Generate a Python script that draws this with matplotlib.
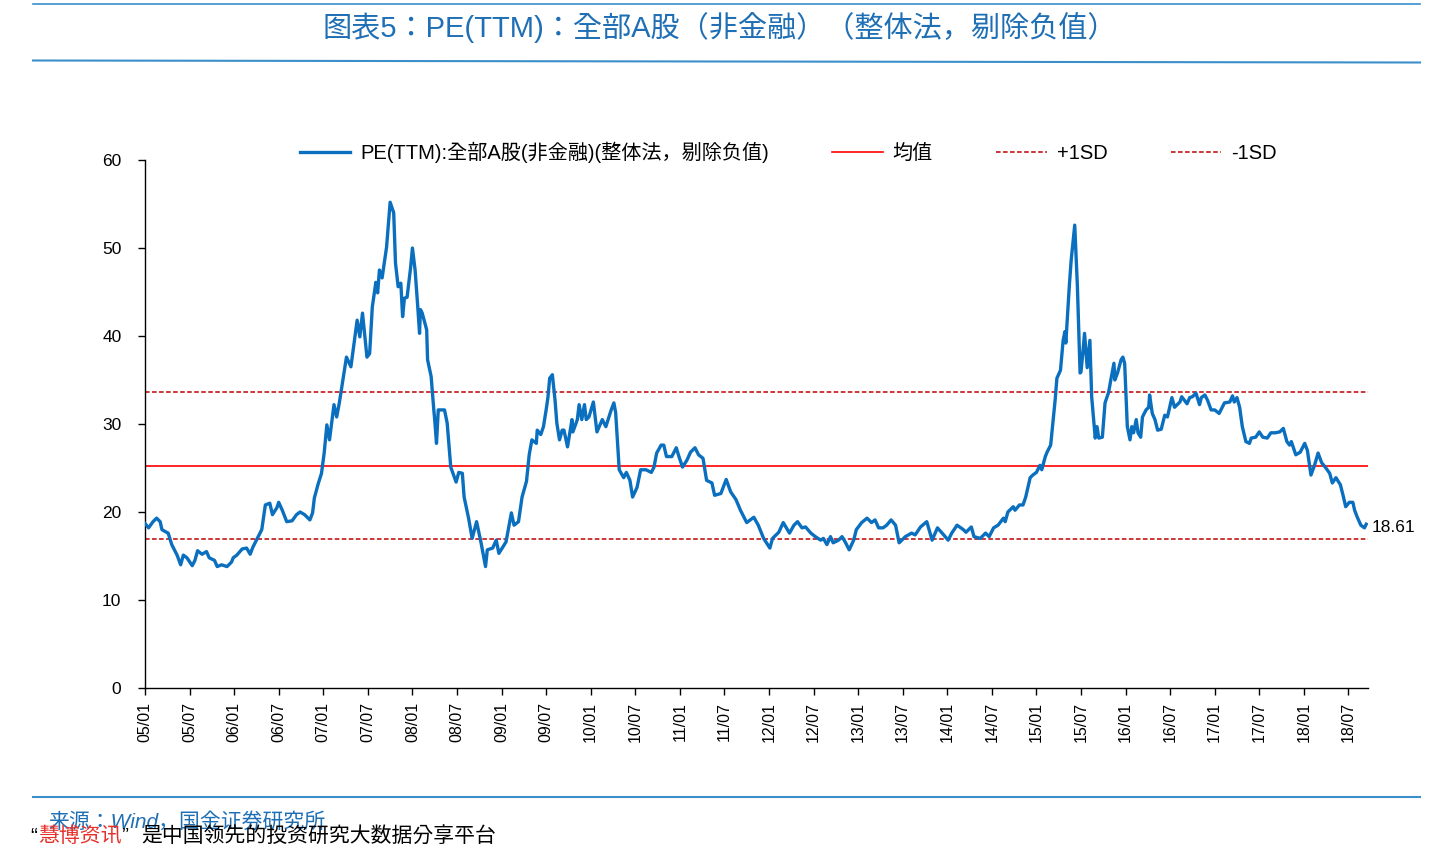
import matplotlib
matplotlib.use("Agg")
import matplotlib.pyplot as plt
from matplotlib.lines import Line2D
import numpy as np

plt.rcParams['font.family'] = ['Liberation Sans', 'Noto Sans CJK KR', 'DejaVu Sans']

# ---- data (decimal year, PE) ----
t_years = [
    2005.00, 2005.04, 2005.09, 2005.13, 2005.17, 2005.19, 2005.24, 2005.26, 2005.30, 2005.36,
    2005.40, 2005.43, 2005.47, 2005.53, 2005.56, 2005.59, 2005.64, 2005.69, 2005.72, 2005.78,
    2005.81, 2005.86, 2005.92, 2005.97, 2005.99, 2006.03, 2006.09, 2006.14, 2006.18, 2006.21,
    2006.25, 2006.31, 2006.33, 2006.35, 2006.40, 2006.43, 2006.48, 2006.50, 2006.54, 2006.59,
    2006.65, 2006.70, 2006.74, 2006.79, 2006.85, 2006.88, 2006.90, 2006.94, 2006.98, 2007.01,
    2007.04, 2007.07, 2007.12, 2007.15, 2007.18, 2007.26, 2007.31, 2007.38, 2007.41, 2007.44,
    2007.49, 2007.52, 2007.55, 2007.59, 2007.61, 2007.63, 2007.66, 2007.71, 2007.75, 2007.79,
    2007.81, 2007.84, 2007.87, 2007.89, 2007.91, 2007.94, 2007.98, 2008.00, 2008.03, 2008.06,
    2008.08, 2008.09, 2008.11, 2008.16, 2008.17, 2008.21, 2008.24, 2008.25, 2008.27, 2008.29,
    2008.36, 2008.39, 2008.43, 2008.49, 2008.52, 2008.56, 2008.58, 2008.63, 2008.67, 2008.72,
    2008.77, 2008.82, 2008.84, 2008.90, 2008.94, 2008.97, 2009.05, 2009.11, 2009.14, 2009.19,
    2009.23, 2009.28, 2009.31, 2009.34, 2009.39, 2009.40, 2009.44, 2009.47, 2009.50, 2009.52,
    2009.54, 2009.57, 2009.60, 2009.62, 2009.65, 2009.68, 2009.70, 2009.74, 2009.79, 2009.80,
    2009.85, 2009.87, 2009.90, 2009.93, 2009.95, 2009.98, 2010.03, 2010.07, 2010.13, 2010.17,
    2010.23, 2010.26, 2010.28, 2010.32, 2010.37, 2010.40, 2010.44, 2010.47, 2010.52, 2010.56,
    2010.62, 2010.68, 2010.71, 2010.74, 2010.79, 2010.82, 2010.85, 2010.91, 2010.96, 2010.99,
    2011.03, 2011.08, 2011.12, 2011.17, 2011.21, 2011.26, 2011.30, 2011.36, 2011.39, 2011.46,
    2011.52, 2011.57, 2011.63, 2011.68, 2011.75, 2011.79, 2011.83, 2011.88, 2011.94, 2012.01,
    2012.04, 2012.11, 2012.16, 2012.23, 2012.28, 2012.32, 2012.37, 2012.41, 2012.47, 2012.52,
    2012.58, 2012.61, 2012.65, 2012.69, 2012.72, 2012.78, 2012.82, 2012.86, 2012.90, 2012.95,
    2012.98, 2013.04, 2013.10, 2013.15, 2013.19, 2013.23, 2013.28, 2013.32, 2013.37, 2013.42,
    2013.46, 2013.53, 2013.60, 2013.64, 2013.70, 2013.77, 2013.83, 2013.89, 2013.96, 2014.01,
    2014.05, 2014.11, 2014.18, 2014.21, 2014.27, 2014.30, 2014.37, 2014.43, 2014.47, 2014.52,
    2014.57, 2014.63, 2014.65, 2014.68, 2014.74, 2014.76, 2014.81, 2014.85, 2014.88, 2014.93,
    2014.96, 2015.00, 2015.04, 2015.06, 2015.10, 2015.12, 2015.16, 2015.21, 2015.23, 2015.27,
    2015.30, 2015.32, 2015.33, 2015.37, 2015.39, 2015.43, 2015.46, 2015.49, 2015.50, 2015.52,
    2015.54, 2015.57, 2015.60, 2015.62, 2015.66, 2015.68, 2015.70, 2015.74, 2015.77, 2015.81,
    2015.84, 2015.87, 2015.88, 2015.91, 2015.95, 2015.97, 2015.99, 2016.02, 2016.05, 2016.07,
    2016.09, 2016.12, 2016.14, 2016.17, 2016.19, 2016.23, 2016.26, 2016.27, 2016.30, 2016.33,
    2016.36, 2016.40, 2016.44, 2016.47, 2016.52, 2016.55, 2016.61, 2016.63, 2016.66, 2016.69,
    2016.72, 2016.75, 2016.79, 2016.83, 2016.85, 2016.89, 2016.92, 2016.96, 2017.00, 2017.05,
    2017.11, 2017.17, 2017.20, 2017.22, 2017.25, 2017.28, 2017.31, 2017.35, 2017.39, 2017.41,
    2017.46, 2017.50, 2017.54, 2017.59, 2017.63, 2017.68, 2017.73, 2017.77, 2017.81, 2017.84,
    2017.86, 2017.91, 2017.96, 2018.01, 2018.04, 2018.08, 2018.12, 2018.16, 2018.20, 2018.24,
    2018.29, 2018.32, 2018.36, 2018.41, 2018.44, 2018.47, 2018.51, 2018.55, 2018.57, 2018.60,
    2018.64, 2018.68, 2018.70,
]
pe_values = [
    18.7, 18.2, 18.9, 19.3, 18.9, 18.0, 17.7, 17.6, 16.3, 15.1,
    14.0, 15.1, 14.8, 13.9, 14.5, 15.6, 15.2, 15.5, 14.8, 14.5,
    13.8, 14.0, 13.8, 14.3, 14.8, 15.1, 15.8, 15.9, 15.2, 16.0,
    16.8, 18.0, 19.4, 20.8, 21.0, 19.7, 20.5, 21.1, 20.2, 18.9,
    19.0, 19.7, 20.0, 19.7, 19.1, 19.9, 21.6, 23.1, 24.4, 26.7,
    29.9, 28.2, 32.2, 30.8, 32.4, 37.6, 36.5, 41.8, 39.9, 42.6,
    37.6, 38.0, 43.3, 46.1, 44.9, 47.5, 46.6, 50.1, 55.2, 54.0,
    48.3, 45.6, 46.0, 42.2, 44.3, 44.4, 47.8, 50.0, 47.5, 43.3,
    40.3, 43.0, 42.6, 40.7, 37.3, 35.4, 31.6, 30.5, 27.8, 31.6,
    31.6, 30.1, 25.1, 23.4, 24.5, 24.4, 21.7, 19.3, 17.0, 18.9,
    16.5, 13.8, 15.7, 15.9, 16.8, 15.3, 16.6, 19.9, 18.5, 18.9,
    21.7, 23.5, 26.5, 28.2, 27.8, 29.3, 28.8, 29.7, 31.6, 33.0,
    35.2, 35.6, 32.7, 30.1, 28.2, 29.3, 29.3, 27.4, 30.5, 29.1,
    30.5, 32.2, 30.5, 32.2, 30.5, 30.8, 32.5, 29.1, 30.5, 29.7,
    31.6, 32.4, 31.3, 24.8, 23.9, 24.5, 23.6, 21.7, 22.8, 24.8,
    24.8, 24.5, 25.1, 26.7, 27.6, 27.6, 26.3, 26.3, 27.3, 26.3,
    25.1, 25.9, 26.8, 27.3, 26.5, 26.1, 23.6, 23.3, 21.9, 22.1,
    23.7, 22.3, 21.4, 20.2, 18.8, 19.1, 19.4, 18.5, 17.0, 15.9,
    17.0, 17.7, 18.8, 17.6, 18.5, 18.9, 18.2, 18.3, 17.6, 17.2,
    16.8, 17.0, 16.3, 17.2, 16.5, 16.8, 17.2, 16.5, 15.7, 16.8,
    18.0, 18.8, 19.3, 18.8, 19.1, 18.2, 18.2, 18.5, 19.1, 18.5,
    16.5, 17.2, 17.6, 17.4, 18.3, 18.9, 16.8, 18.2, 17.4, 16.8,
    17.6, 18.5, 18.0, 17.7, 18.3, 17.2, 17.0, 17.6, 17.2, 18.2,
    18.5, 19.3, 18.9, 20.0, 20.6, 20.2, 20.8, 20.8, 21.7, 23.9,
    24.2, 24.5, 25.3, 24.8, 26.3, 26.8, 27.6, 32.7, 35.2, 36.1,
    39.5, 40.5, 39.2, 45.8, 48.6, 52.6, 45.6, 35.8, 35.9, 38.0,
    40.3, 36.4, 39.5, 33.1, 28.4, 29.7, 28.4, 28.5, 32.4, 33.6,
    35.3, 36.9, 35.0, 35.8, 37.3, 37.6, 36.9, 29.7, 28.2, 29.7,
    29.0, 30.5, 29.0, 28.5, 30.8, 31.6, 31.9, 33.3, 31.2, 30.5,
    29.3, 29.4, 31.0, 30.8, 33.0, 31.9, 32.5, 33.1, 32.7, 32.3,
    33.0, 33.1, 33.5, 32.2, 33.0, 33.3, 32.7, 31.6, 31.6, 31.2,
    32.4, 32.5, 33.2, 32.5, 33.0, 31.9, 29.7, 28.0, 27.8, 28.4,
    28.5, 29.1, 28.5, 28.4, 29.0, 29.0, 29.1, 29.5, 28.0, 27.6,
    28.0, 26.5, 26.8, 27.8, 27.0, 24.2, 25.3, 26.7, 25.6, 25.1,
    24.4, 23.3, 23.9, 23.1, 21.9, 20.6, 21.1, 21.1, 20.2, 19.4,
    18.5, 18.2, 18.61,
]
mean_val = 25.25
plus_sd = 33.6
minus_sd = 16.9
last_label = "18.61"

tick_years = [2005 + 0.5 * i for i in range(28)]
tick_labels = [f"{y:02d}/{m}" for y in range(5, 19) for m in ("01", "07")]

series_label = "PE(TTM):全部A股(非金融)(整体法，剔除负值)"
title_text = "图表5：PE(TTM)：全部A股（非金融）（整体法，剔除负值）"

BLUE = "#0A6FBE"
RED = "#FF0000"
DRED = "#C00000"
TITLE_BLUE = "#1F6FB5"
RULE_BLUE = "#3A8FCB"

W, H = 1449, 850
fig = plt.figure(figsize=(W / 100, H / 100), dpi=100)
ax = fig.add_axes([145 / W, 1 - 688 / H, (1368 - 145) / W, (688 - 160) / H])

ax.plot(t_years, pe_values, color=BLUE, lw=2.4, label=series_label, zorder=3,
        solid_joinstyle="round")
ax.axhline(mean_val, color=RED, lw=1.2, label="均值", zorder=2)
ax.axhline(plus_sd, color=DRED, lw=1.1, ls=(0, (3, 1.6)), label="+1SD", zorder=2)
ax.axhline(minus_sd, color=DRED, lw=1.1, ls=(0, (3, 1.6)), label="-1SD", zorder=2)

ax.set_xlim(2005.0, 2018.72)
ax.set_ylim(0, 60)
ax.set_yticks(range(0, 61, 10))
ax.set_xticks(tick_years[:len(tick_labels)])
ax.set_xticklabels(tick_labels, rotation=90, fontsize=11.5)
ax.tick_params(axis='y', labelsize=12.5, direction='out', length=5, width=1, pad=12)
ax.tick_params(axis='x', direction='out', length=5, width=1, pad=5)
for s in ("top", "right"):
    ax.spines[s].set_visible(False)
for s in ("left", "bottom"):
    ax.spines[s].set_linewidth(1.0)
    ax.spines[s].set_color("black")

ax.annotate(last_label, xy=(t_years[-1], pe_values[-1]), xytext=(4, -2),
            textcoords="offset points", va="center", ha="left", fontsize=12.5)

leg = ax.legend(loc="center", bbox_to_anchor=(0.526, 1 + 8 / (688 - 160)),
                ncol=4, frameon=False, fontsize=14.5, handlelength=2.5,
                handletextpad=0.5, columnspacing=3.15)

# title and rules
fig.text(720 / W, 1 - 28 / H, title_text, ha="center", va="center",
         fontsize=21, color=TITLE_BLUE)
fig.add_artist(Line2D([33 / W, 1420 / W], [1 - 4 / H, 1 - 4 / H], color=RULE_BLUE, lw=1.2))
fig.add_artist(Line2D([33 / W, 1420 / W], [1 - 60.5 / H, 1 - 62.5 / H], color=RULE_BLUE, lw=1.5))
fig.add_artist(Line2D([33 / W, 1420 / W], [1 - 797 / H, 1 - 797 / H], color=RULE_BLUE, lw=1.5))

fig.text(48 / W, 1 - 822 / H, "来源：Wind，国金证券研究所", ha="left", va="center",
         fontsize=15, color=TITLE_BLUE, style="italic")
fig.text(30 / W, 1 - 836 / H, "“", ha="left", va="center", fontsize=15, color="black")
fig.text(38 / W, 1 - 836 / H, "慧博资讯", ha="left", va="center", fontsize=15, color="#E8302A")
fig.text(121 / W, 1 - 836 / H, "”", ha="left", va="center", fontsize=15, color="black")
fig.text(141 / W, 1 - 836 / H, "是中国领先的投资研究大数据分享平台", ha="left", va="center",
         fontsize=15, color="black")

fig.savefig("out.png", dpi=100)
